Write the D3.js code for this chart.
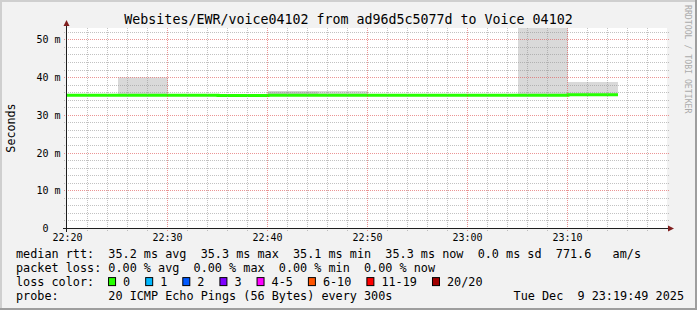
<!DOCTYPE html>
<html>
<head>
<meta charset="utf-8">
<script src="https://cdn.jsdelivr.net/npm/d3@7"></script>
<style>
  html, body { margin: 0; padding: 0; background: #f2f2f2; }
  svg { display: block; }
  text { font-family: "DejaVu Sans Mono", monospace; white-space: pre; }
</style>
</head>
<body>
<svg id="chart" width="697" height="310"></svg>
<script>
const title = 'Websites/EWR/voice04102 from ad96d5c5077d to Voice 04102';
const yLabel = 'Seconds';
const watermark = 'RRDTOOL / TOBI OETIKER';

// 5 minute steps, keyed by the start of the step
const steps = ['22:20', '22:25', '22:30', '22:35', '22:40', '22:45', '22:50', '22:55', '23:00', '23:05', '23:10'];
const median = [35.2, 35.2, 35.2, 35.1, 35.2, 35.2, 35.2, 35.2, 35.2, 35.2, 35.3];
// highest ping of the step (light smoke), null where it hides under the median
const smokeMax = [null, 39.9, null, null, 36.2, 36.3, null, null, null, 70, 38.7];
// second highest ping (darker smoke)
const smokeMax2 = [null, null, null, null, 36.2, null, null, null, null, null, null];

const xTicks = ['22:20', '22:30', '22:40', '22:50', '23:00', '23:10'];
const yTicks = [0, 10, 20, 30, 40, 50];

const rttStats = [['35.2', 'avg'], ['35.3', 'max'], ['35.1', 'min'], ['35.3', 'now'], ['0.0', 'sd']];
const amPerSec = '771.6';
const lossStats = [['0.00', 'avg'], ['0.00', 'max'], ['0.00', 'min'], ['0.00', 'now']];
const lossLabels = ['0', '1', '2', '3', '4-5', '6-10', '11-19', '20/20'];
const lossColors = ['#26ff00', '#00b8ff', '#0059ff', '#7e00ff', '#ff00ff', '#ff5500', '#ff0000', '#a10000'];
const probe = '20 ICMP Echo Pings (56 Bytes) every 300s';
const stamp = 'Tue Dec  9 23:19:49 2025';

const W = 697, H = 310;
const CW = 7.12; // legend char advance
const t = s => { const [h, m] = s.split(':').map(Number); return new Date(2025, 11, 9, h, m); };

const svg = d3.select('#chart');

const x = d3.scaleTime().domain([t('22:20'), t('23:20')]).range([67, 667]);
const y = d3.scaleLinear().domain([0, 53]).range([228, 28]);
const snap = v => Math.round(v) + 0.5;

// background + 3d border
svg.append('rect').attr('width', W).attr('height', H).attr('fill', '#f2f2f2');
svg.append('path').attr('fill', '#cfcfcf')
  .attr('d', `M0,0H${W}V2H2V${H}H0Z`);
svg.append('path').attr('fill', '#9e9e9e')
  .attr('d', `M${W},0V${H}H0V${H - 2}H${W - 2}V0Z`);

// canvas
svg.append('rect').attr('x', 67).attr('y', 28).attr('width', 600).attr('height', 200).attr('fill', '#fff');

svg.append('clipPath').attr('id', 'clip')
  .append('rect').attr('x', 67).attr('y', 28).attr('width', 600).attr('height', 200);

const plot = svg.append('g').attr('clip-path', 'url(#clip)');

// smoke
const stepEnd = s => d3.timeMinute.offset(t(s), 5);
const smoke = steps.map((s, i) => ({ s, lo: median[i], hi: smokeMax[i], hi2: smokeMax2[i] }));
plot.selectAll('rect.smoke')
  .data(smoke.filter(d => d.hi != null))
  .join('rect')
  .attr('class', 'smoke')
  .attr('x', d => x(t(d.s)) + 1)
  .attr('width', d => x(stepEnd(d.s)) - x(t(d.s)))
  .attr('y', d => y(d.hi))
  .attr('height', d => y(d.lo) - y(d.hi))
  .attr('fill', '#d9d9d9');
plot.selectAll('rect.smoke2')
  .data(smoke.filter(d => d.hi2 != null))
  .join('rect')
  .attr('class', 'smoke2')
  .attr('x', d => x(t(d.s)) + 1)
  .attr('width', d => x(stepEnd(d.s)) - x(t(d.s)))
  .attr('y', d => y(d.hi2))
  .attr('height', d => y(d.lo) - y(d.hi2))
  .attr('fill', '#c4c4c4');

// grid
const grid = svg.append('g');
const minorY = d3.range(2, 53, 2).filter(v => v % 10 !== 0);
const majorY = d3.range(10, 53, 10);
const minorX = d3.timeMinute.every(2).range(t('22:22'), t('23:20')).filter(d => d.getMinutes() % 10 !== 0);
const majorX = d3.timeMinute.every(10).range(t('22:30'), t('23:20'));
const gridColor = 'rgba(143,143,143,0.55)';
const mgridColor = 'rgba(222,79,79,0.6)';

function hLines(vals, color) {
  grid.append('g').selectAll('line').data(vals).join('line')
    .attr('x1', 64).attr('x2', 670)
    .attr('y1', d => snap(y(d))).attr('y2', d => snap(y(d)))
    .attr('stroke', color).attr('stroke-dasharray', '1,1');
}
function vLines(vals, color) {
  grid.append('g').selectAll('line').data(vals).join('line')
    .attr('y1', 28).attr('y2', 231)
    .attr('x1', d => snap(x(d))).attr('x2', d => snap(x(d)))
    .attr('stroke', color).attr('stroke-dasharray', '1,1');
}
hLines(minorY, gridColor);
vLines(minorX, gridColor);
hLines(majorY, mgridColor);
vLines(majorX, mgridColor);

// median line
const linePts = steps.map((s, i) => [i === 0 ? x(t(s)) : x(t(s)) + 1, median[i]]);
linePts.push([x(stepEnd(steps[steps.length - 1])) + 1, median[median.length - 1]]);
plot.append('path')
  .attr('fill', 'none')
  .attr('stroke', lossColors[0])
  .attr('stroke-width', 3)
  .attr('d', d3.line().curve(d3.curveStepAfter).x(d => d[0]).y(d => y(d[1]))(linePts));

// axes
const axisColor = '#1f1f1f', arrowColor = '#801f1f';
svg.append('line').attr('x1', 63).attr('x2', 671).attr('y1', 228.5).attr('y2', 228.5).attr('stroke', axisColor);
svg.append('line').attr('x1', 66.5).attr('x2', 66.5).attr('y1', 232).attr('y2', 24).attr('stroke', axisColor);
svg.append('path').attr('fill', arrowColor).attr('d', 'M674,228.5L668,225.5L668,231.5Z');
svg.append('path').attr('fill', arrowColor).attr('d', 'M66.5,20L63.5,26L69.5,26Z');

const yAxis = svg.append('g').attr('transform', 'translate(67,0)')
  .call(d3.axisLeft(y).tickValues(yTicks).tickSize(0).tickPadding(6.5)
    .tickFormat(d => d === 0 ? '0  ' : `${d} m`));
yAxis.select('.domain').remove();
yAxis.selectAll('text')
  .attr('font-size', 10).attr('fill', '#000').attr('dy', '0.36em')
  .attr('xml:space', 'preserve');

const xAxis = svg.append('g').attr('transform', 'translate(0,228)')
  .call(d3.axisBottom(x).tickValues(xTicks.map(t)).tickSize(0).tickPadding(5.4)
    .tickFormat(d3.timeFormat('%H:%M')));
xAxis.select('.domain').remove();
xAxis.selectAll('text').attr('font-size', 10).attr('fill', '#000');

// title, y label, watermark
svg.append('text').attr('x', W / 2).attr('y', 23.5).attr('text-anchor', 'middle')
  .attr('font-size', 13.3).attr('fill', '#000').text(title);
svg.append('text').attr('transform', 'translate(15,128) rotate(-90)').attr('text-anchor', 'middle')
  .attr('font-size', 11.7).attr('fill', '#000').text(yLabel);
svg.append('text').attr('transform', 'translate(685,5) rotate(90)')
  .attr('font-size', 8.2).attr('fill', '#ababab').text(watermark);

// legend
const lx = 16;
const rows = [258.3, 272.2, 286.1, 300];
const legendText = (str, xx, yy, anchor) => svg.append('text')
  .attr('x', xx).attr('y', yy).attr('text-anchor', anchor || 'start')
  .attr('xml:space', 'preserve').attr('font-size', 11.8).attr('fill', '#000').text(str);

legendText('median rtt:  ' + rttStats.map(([v, k]) => `${v} ms ${k}`).join('  ') + `  ${amPerSec}   am/s`, lx, rows[0]);
legendText('packet loss: ' + lossStats.map(([v, k]) => `${v} % ${k}`).join('  '), lx, rows[1]);
legendText('loss color:', lx, rows[2]);
legendText('probe:       ' + probe, lx, rows[3]);
legendText(stamp, 684, rows[3], 'end');

let bx = lx + 13 * CW - 0.5;
lossLabels.forEach((lab, i) => {
  svg.append('rect').attr('x', bx + 0.5).attr('y', rows[2] - 8.5).attr('width', 7).attr('height', 8)
    .attr('fill', lossColors[i]).attr('stroke', '#000').attr('stroke-width', 1);
  legendText(lab, bx + 15, rows[2]);
  bx += 15 + lab.length * CW + 15;
});
</script>
</body>
</html>
